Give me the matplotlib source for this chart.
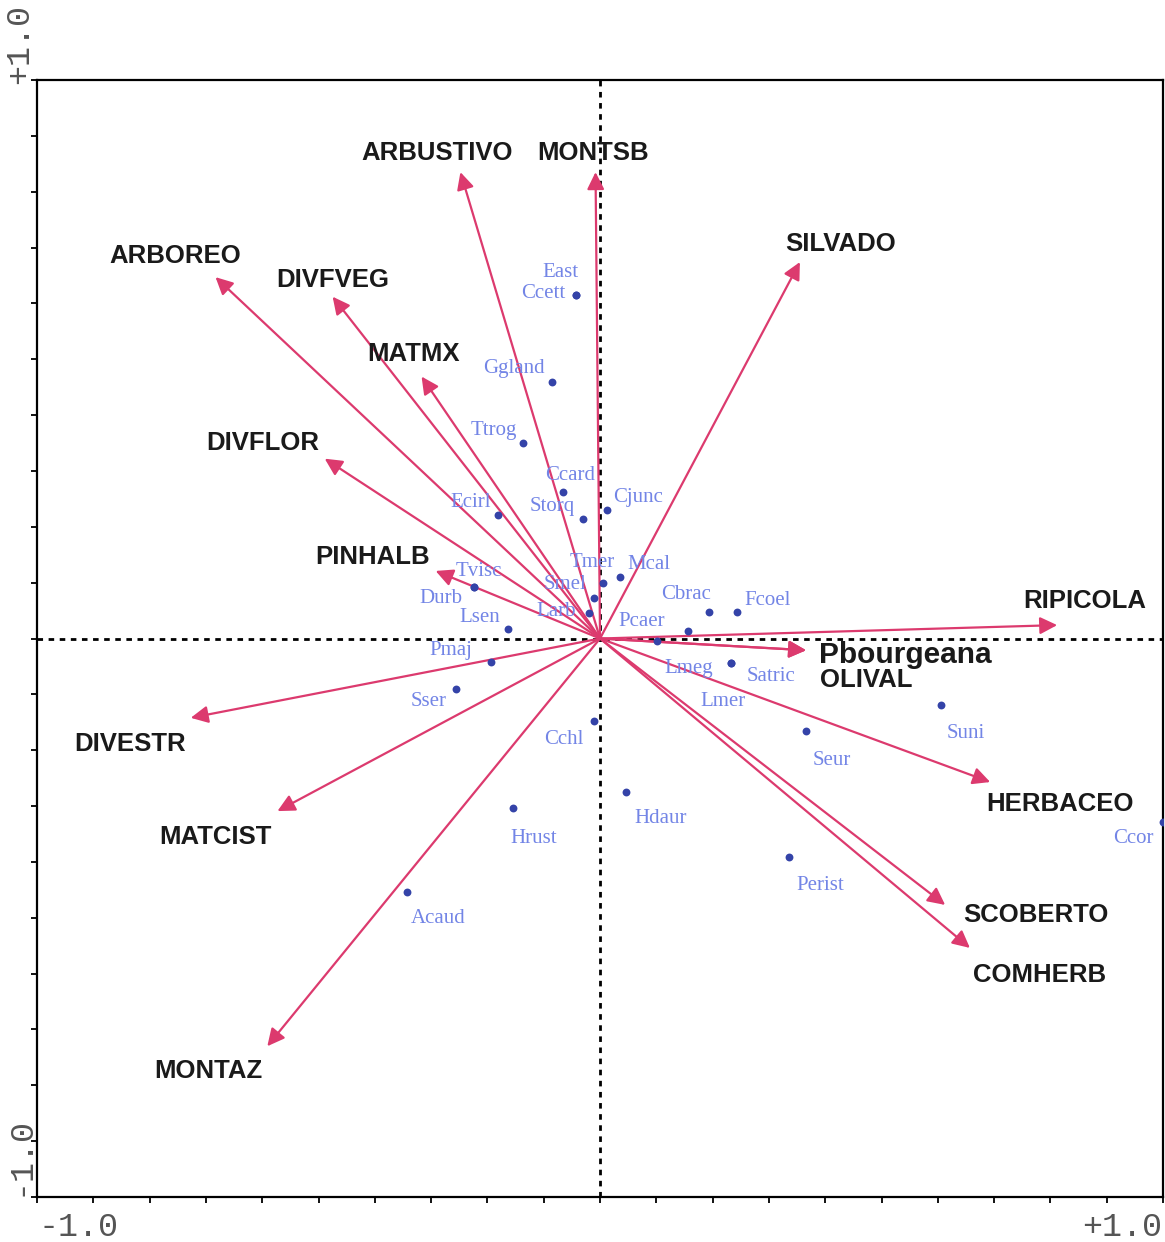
import numpy as np
import matplotlib
matplotlib.use("Agg")
import matplotlib.pyplot as plt

# Environmental variables (arrow tips, ordination units)
env_names = ["ARBUSTIVO", "MONTSB", "SILVADO", "ARBOREO", "DIVFVEG", "MATMX",
             "DIVFLOR", "PINHALB", "RIPICOLA", "Pbourgeana", "OLIVAL", "HERBACEO",
             "SCOBERTO", "COMHERB", "DIVESTR", "MATCIST", "MONTAZ"]
env_x = [-0.248, -0.008, 0.355, -0.683, -0.475, -0.317,
         -0.489, -0.292, 0.812, 0.366, 0.366, 0.693,
         0.613, 0.657, -0.727, -0.573, -0.591]
env_y = [0.835, 0.835, 0.674, 0.647, 0.612, 0.469,
         0.322, 0.121, 0.024, -0.021, -0.021, -0.257,
         -0.477, -0.554, -0.142, -0.309, -0.730]

# Species scores
sp_names = ["East", "Ccett", "Ggland", "Ttrog", "Ccard", "Cjunc", "Storq", "Ecirl",
            "Tmer", "Mcal", "Smel", "Larb", "Tvisc", "Durb", "Lsen", "Cbrac",
            "Fcoel", "Pcaer", "Lmeg", "Satric", "Lmer", "Pmaj", "Sser", "Suni",
            "Seur", "Cchl", "Hdaur", "Hrust", "Perist", "Acaud", "Ccor"]
sp_x = [-0.042, -0.042, -0.086, -0.136, -0.065, 0.012, -0.031, -0.182,
        0.006, 0.035, -0.010, -0.019, -0.223, -0.223, -0.164, 0.194,
        0.244, 0.157, 0.102, 0.232, 0.232, -0.194, -0.256, 0.606,
        0.365, -0.010, 0.047, -0.154, 0.336, -0.342, 1.000]
sp_y = [0.615, 0.615, 0.459, 0.350, 0.262, 0.230, 0.214, 0.221,
        0.100, 0.111, 0.073, 0.046, 0.092, 0.092, 0.017, 0.047,
        0.047, 0.013, -0.004, -0.044, -0.044, -0.042, -0.090, -0.119,
        -0.166, -0.148, -0.275, -0.303, -0.391, -0.454, -0.328]

# label placement (pixel offsets from the point / arrow tip)
env_off = {"ARBUSTIVO": (-23, 19), "MONTSB": (-2, 19), "SILVADO": (41, 18),
           "ARBOREO": (-40, 21), "DIVFVEG": (0, 17), "MATMX": (-8, 23),
           "DIVFLOR": (-62, 16), "PINHALB": (-63, 14), "RIPICOLA": (28, 24),
           "Pbourgeana": (99, -5), "OLIVAL": (60, -30), "HERBACEO": (70, -22),
           "SCOBERTO": (91, -10), "COMHERB": (70, -27), "DIVESTR": (-61, -26),
           "MATCIST": (-62, -26), "MONTAZ": (-59, -25)}
sp_off = {"East": (-16, 23), "Ccett": (-33, 2), "Ggland": (-38, 14), "Ttrog": (-30, 13),
          "Ccard": (7, 17), "Cjunc": (31, 13), "Storq": (-30, 12), "Ecirl": (-27, 13),
          "Tmer": (-11, 20), "Mcal": (29, 12), "Smel": (-29, 13), "Larb": (-33, 1),
          "Tvisc": (4, 16), "Durb": (-34, -11), "Lsen": (-28, 12), "Cbrac": (-23, 18),
          "Fcoel": (30, 12), "Pcaer": (-47, 10), "Lmeg": (31, -28), "Satric": (40, -13),
          "Lmer": (-8, -38), "Pmaj": (-40, 11), "Sser": (-27, -13), "Suni": (25, -29),
          "Seur": (26, -29), "Cchl": (-31, -18), "Hdaur": (34, -26), "Hrust": (20, -31),
          "Perist": (31, -29), "Acaud": (31, -26), "Ccor": (-30, -17)}

arrow_col = "#dc3a6e"
sp_col = "#7385e6"
dot_col = "#3443a8"

fig = plt.figure(figsize=(11.65, 12.42), dpi=100)
ax = fig.add_axes([0.0318, 0.0362, 0.9665, 0.8994])
ax.set_xlim(-1, 1)
ax.set_ylim(-1, 1)

# dashed zero lines
ax.axhline(0, color="black", lw=2, ls=(0, (2, 2)), zorder=1)
ax.axvline(0, color="black", lw=2, ls=(0, (2, 2)), zorder=1)

# arrows
for name, x, y in zip(env_names, env_x, env_y):
    ax.annotate("", xy=(x, y), xytext=(0, 0),
                arrowprops=dict(arrowstyle="-|>", color=arrow_col, lw=1.6,
                                mutation_scale=26, shrinkA=0, shrinkB=0),
                zorder=3)
    dx, dy = env_off[name]
    fs = 21.5 if name == "Pbourgeana" else 18.5
    ax.annotate(name, xy=(x, y), xytext=(dx, dy), textcoords="offset pixels",
                ha="center", va="center", fontsize=fs, fontweight="bold",
                family="Liberation Sans", color="#1a1a1a", zorder=4)

# species
ax.scatter(sp_x, sp_y, s=32, color=dot_col, zorder=5, linewidths=0)
for name, x, y in zip(sp_names, sp_x, sp_y):
    dx, dy = sp_off[name]
    ax.annotate(name, xy=(x, y), xytext=(dx, dy), textcoords="offset pixels",
                ha="center", va="center", fontsize=15, family="Liberation Serif",
                color=sp_col, zorder=4)

# frame and ticks
for sp in ax.spines.values():
    sp.set_linewidth(1.6)
ticks = np.round(np.arange(-1, 1.01, 0.1), 1)
ax.set_xticks(ticks)
ax.set_yticks(ticks)
ax.tick_params(direction="out", length=4, width=1.3, labelbottom=False, labelleft=False)

mono = "Liberation Mono"
lab_col = "#555555"
fig.text(38 / 1165, 1 - 1228 / 1242, "-1.0", ha="left", va="center", fontsize=24,
         family=mono, color=lab_col)
fig.text(1162 / 1165, 1 - 1228 / 1242, "+1.0", ha="right", va="center", fontsize=24,
         family=mono, color=lab_col)
fig.text(20 / 1165, 1 - 4 / 1242, "+1.0", ha="center", va="top", rotation=90,
         fontsize=24, family=mono, color=lab_col)
fig.text(20 / 1165, 1 - 1196 / 1242, "-1.0", ha="center", va="bottom", rotation=90,
         fontsize=24, family=mono, color=lab_col)

fig.savefig("out.png", dpi=100)
